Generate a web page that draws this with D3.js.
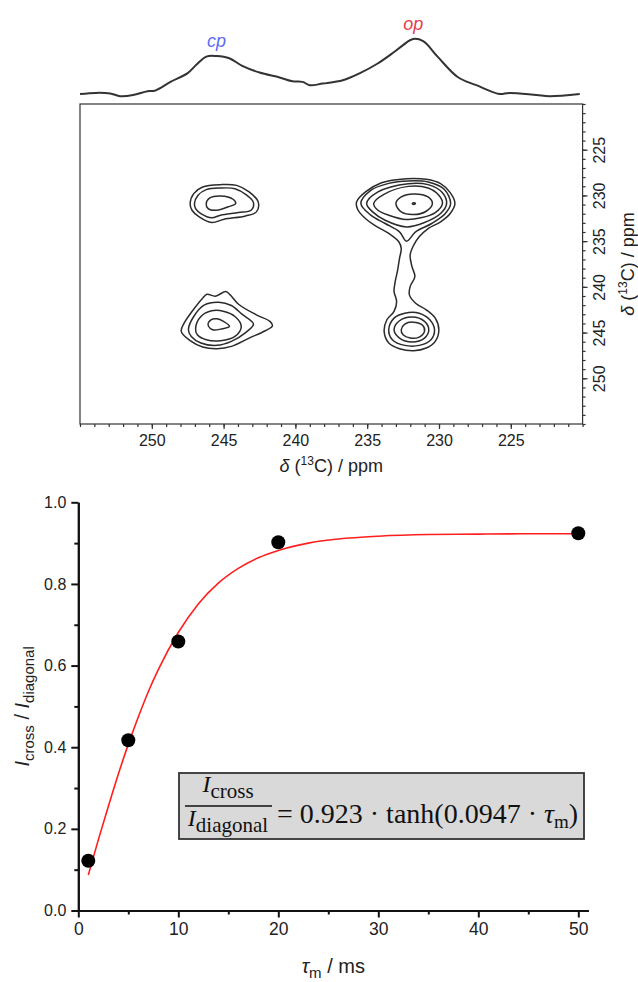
<!DOCTYPE html>
<html>
<head>
<meta charset="utf-8">
<script src="https://cdn.jsdelivr.net/npm/d3@7"></script>
<style>
body { margin: 0; background: #fff; }
svg { display: block; }
</style>
</head>
<body>
<svg id="chart" width="638" height="982"></svg>
<script>
// ---- 1D projection (top trace) ----
var spec_ppm = [255.0, 253.9, 252.9, 252.2, 251.3, 250.3, 249.8, 248.7, 247.5, 246.9,
                246.2, 245.5, 244.6, 243.7, 242.5, 241.1, 240.2, 239.5, 239.0, 238.1,
                236.7, 235.5, 234.3, 233.2, 232.5, 231.8, 231.1, 230.1, 228.7, 227.4,
                225.8, 225.1, 223.2, 222.3, 220.2];
var spec_int = [0.0, 0.02, 0.01, -0.04, -0.02, 0.05, 0.06, 0.22, 0.38, 0.53,
                0.68, 0.69, 0.65, 0.51, 0.39, 0.30, 0.23, 0.22, 0.16, 0.19,
                0.25, 0.38, 0.55, 0.75, 0.89, 1.0, 0.96, 0.68, 0.31, 0.16,
                0.0, 0.02, -0.02, -0.04, 0.0];
var peak_labels = ["cp", "op"];
var peak_label_ppm = [245.5, 231.8];
var peak_label_colors = ["#5b6cf2", "#e53e4c"];

// ---- 2D contours, rings as [f2 ppm, f1 ppm] ----
var ring_cp_top = [
  [[247.33,230.89],[247.08,229.80],[246.46,229.08],[245.21,228.82],[244.09,228.90],[243.22,229.62],[242.59,230.71],[242.72,231.80],[243.47,232.24],[244.96,232.60],[245.83,232.96],[246.70,232.35],[247.20,231.62]],
  [[247.03,230.89],[246.78,229.99],[246.21,229.37],[245.21,229.19],[244.21,229.26],[243.47,229.88],[242.92,230.78],[243.09,231.62],[243.96,231.87],[245.21,232.16],[245.83,232.45],[246.58,231.98],[246.95,231.44]],
  [[246.21,230.89],[245.96,230.28],[245.21,230.06],[244.34,230.42],[244.16,230.89],[244.71,231.26],[245.46,231.62],[246.08,231.44]]
];
var ring_op_link = [
  [[235.74,230.71],[235.12,229.62],[234.00,228.61],[232.26,228.17],[230.89,228.24],[229.89,228.71],[229.22,229.70],[228.89,230.89],[229.22,231.98],[229.89,232.89],[230.76,233.62],[231.38,234.52],[231.76,235.43],[232.01,236.52],[231.88,237.79],[231.68,238.88],[232.01,239.97],[232.06,240.88],[231.63,241.79],[230.89,242.51],[230.26,243.42],[230.01,244.69],[230.26,245.96],[230.89,246.69],[231.76,246.98],[232.75,246.76],[233.50,246.14],[233.82,244.87],[233.63,243.60],[233.13,242.69],[232.95,241.61],[233.13,240.52],[233.05,239.43],[232.88,238.16],[232.75,236.88],[232.63,235.80],[232.80,235.07],[233.50,234.16],[234.50,233.25],[235.24,232.35],[235.67,231.51]]
];
var ring_op_top = [
  [[235.44,230.89],[234.75,229.44],[233.50,228.68],[232.13,228.42],[230.76,228.53],[229.64,229.33],[229.19,230.89],[229.56,231.98],[230.51,233.07],[231.63,233.98],[232.26,235.00],[232.75,233.98],[233.75,233.07],[234.75,232.16]],
  [[235.04,230.89],[234.25,229.62],[232.13,228.71],[230.76,228.82],[229.76,229.70],[229.47,230.89],[229.89,231.98],[231.01,232.96],[232.26,233.44],[233.75,232.71],[234.62,231.80]],
  [[234.55,230.89],[233.87,229.91],[232.13,229.01],[230.76,229.19],[230.01,229.99],[229.76,230.89],[230.26,231.87],[231.26,232.45],[232.26,232.64],[233.50,232.16],[234.25,231.62]],
  [[233.00,230.89],[232.63,230.17],[231.76,229.84],[230.76,230.17],[230.46,230.89],[230.89,231.73],[231.76,232.09],[232.63,231.80]],
  [[231.86,230.89],[231.76,230.80],[231.64,230.89],[231.76,230.98]]
];
var ring_op_bottom = [
  [[233.50,244.69],[233.13,243.42],[232.38,242.88],[231.38,242.88],[230.64,243.60],[230.31,244.69],[230.56,245.78],[231.38,246.40],[232.38,246.40],[233.25,245.78]],
  [[233.13,244.69],[232.75,243.71],[231.88,243.31],[231.01,243.78],[230.71,244.69],[231.01,245.60],[231.88,246.03],[232.75,245.60]],
  [[232.63,244.69],[232.38,244.07],[231.81,243.86],[231.13,244.22],[231.01,244.87],[231.38,245.49],[232.01,245.60],[232.50,245.24]]
];
var ring_cp_bottom = [
  [[247.95,244.87],[247.75,243.97],[247.20,242.69],[246.46,241.24],[246.16,240.81],[245.58,241.02],[244.84,240.52],[244.54,240.88],[243.96,241.90],[242.72,243.06],[241.77,243.78],[241.60,244.26],[242.10,244.80],[243.22,245.60],[244.46,246.51],[245.46,246.76],[246.46,246.58],[247.33,245.89]],
  [[247.45,244.69],[247.08,243.24],[246.33,241.97],[245.33,241.68],[244.46,242.04],[243.72,242.99],[242.92,244.07],[243.42,244.95],[244.46,245.96],[245.46,246.40],[246.58,246.14],[247.25,245.42]],
  [[246.95,244.51],[246.58,243.24],[245.83,242.62],[244.96,242.69],[244.21,243.24],[243.77,244.33],[244.21,245.42],[245.21,245.89],[246.21,245.78],[246.83,245.24]],
  [[246.08,244.15],[245.88,243.60],[245.46,243.49],[245.01,243.78],[244.59,244.33],[245.09,244.58],[245.76,244.69]]
];
var ppm_ticks = [250, 245, 240, 235, 230, 225];

// ---- build-up curve (bottom panel) ----
var tau_ms = [1, 5, 10, 20, 50];
var ratio = [0.122, 0.417, 0.659, 0.902, 0.924];
var fit_tau = [1, 2, 3, 4, 5, 6, 7, 8, 10, 12, 14, 16, 18, 20, 23, 26, 30, 35, 40, 45, 50];
var fit_ratio = [0.087, 0.173, 0.255, 0.334, 0.407, 0.474, 0.536, 0.590, 0.681, 0.751, 0.802,
                 0.838, 0.864, 0.882, 0.900, 0.910, 0.917, 0.921, 0.922, 0.923, 0.923];
var tau_ticks = [0, 10, 20, 30, 40, 50];
var tau_minor = [5, 15, 25, 35, 45];
var ratio_ticks = [0, 0.2, 0.4, 0.6, 0.8, 1.0];
var ratio_minor = [0.1, 0.3, 0.5, 0.7, 0.9];

var sans = "'Liberation Sans', Arial, sans-serif";
var serif = "'Liberation Serif', 'Times New Roman', serif";

var svg = d3.select("#chart");

var xppm = d3.scaleLinear().domain([255, 220]).range([80, 582.6]);
var yppm = d3.scaleLinear().domain([220, 255]).range([104, 424]);
var yspec = d3.scaleLinear().domain([0, 1]).range([94, 39]);

var xtau = d3.scaleLinear().domain([0, 51]).range([78.3, 588.3]);
var yratio = d3.scaleLinear().domain([0, 1]).range([910.5, 502.3]);

function setup_spectrum() {
    var line = d3.line()
        .x(function(d) { return xppm(d[0]); })
        .y(function(d) { return yspec(d[1]); })
        .curve(d3.curveCatmullRom);
    svg.append("path")
        .datum(d3.zip(spec_ppm, spec_int))
        .attr("d", line)
        .attr("fill", "none")
        .attr("stroke", "#333")
        .attr("stroke-width", 2);

    var peak_int = peak_label_ppm.map(function(p) {
        return d3.max(d3.zip(spec_ppm, spec_int), function(d) { return Math.abs(d[0] - p) < 0.6 ? d[1] : -1; });
    });
    svg.append("g").selectAll("text")
        .data(peak_labels)
        .enter().append("text")
        .attr("x", function(d, i) { return xppm(peak_label_ppm[i]); })
        .attr("y", function(d, i) { return yspec(peak_int[i]) - 9; })
        .attr("text-anchor", "middle")
        .attr("font-family", sans)
        .attr("font-style", "italic")
        .attr("font-size", 18)
        .attr("fill", function(d, i) { return peak_label_colors[i]; })
        .text(function(d) { return d; });
}

function setup_contours() {
    var ring = d3.line()
        .x(function(d) { return xppm(d[0]); })
        .y(function(d) { return yppm(d[1]); })
        .curve(d3.curveCatmullRomClosed.alpha(0.5));
    var rings = [].concat(ring_cp_top, ring_op_link, ring_op_top, ring_op_bottom, ring_cp_bottom);
    svg.append("g").selectAll("path")
        .data(rings)
        .enter().append("path")
        .attr("d", ring)
        .attr("fill", "none")
        .attr("stroke", "#2b2b2b")
        .attr("stroke-width", 1.5);
}

function setup_contour_axes() {
    svg.append("rect")
        .attr("x", xppm(255)).attr("y", yppm(220))
        .attr("width", xppm(220) - xppm(255))
        .attr("height", yppm(255) - yppm(220))
        .attr("fill", "none").attr("stroke", "#333").attr("stroke-width", 1.2);

    var minor = d3.range(220, 256);
    var bottom = svg.append("g").attr("transform", "translate(0," + yppm(255) + ")");
    bottom.append("g").call(d3.axisBottom(xppm).tickValues(minor).tickSize(3).tickFormat(""));
    bottom.append("g").call(d3.axisBottom(xppm).tickValues(ppm_ticks).tickSize(5).tickPadding(6).tickFormat(d3.format("d")));
    bottom.selectAll(".domain").remove();
    bottom.selectAll("line").attr("stroke", "#333").attr("stroke-width", 1.2);
    bottom.selectAll("text").attr("font-family", sans).attr("font-size", 16).attr("fill", "#222");

    var right = svg.append("g").attr("transform", "translate(" + xppm(220) + ",0)");
    right.append("g").call(d3.axisRight(yppm).tickValues(minor).tickSize(3).tickFormat(""));
    right.append("g").call(d3.axisRight(yppm).tickValues(ppm_ticks).tickSize(5).tickFormat(d3.format("d")));
    right.selectAll(".domain").remove();
    right.selectAll("line").attr("stroke", "#333").attr("stroke-width", 1.2);
    right.selectAll("text")
        .attr("x", null)
        .attr("dy", "0.35em")
        .attr("transform", "translate(17,0) rotate(-90)")
        .attr("text-anchor", "middle")
        .attr("font-family", sans).attr("font-size", 16).attr("fill", "#222");

    var xt = svg.append("text")
        .attr("x", (xppm(255) + xppm(220)) / 2)
        .attr("y", 472)
        .attr("text-anchor", "middle")
        .attr("font-family", sans).attr("font-size", 18).attr("fill", "#222");
    xt.append("tspan").attr("font-style", "italic").text("δ");
    xt.append("tspan").text(" (");
    xt.append("tspan").attr("font-size", 12).attr("dy", -7).text("13");
    xt.append("tspan").attr("dy", 7).text("C) / ppm");

    var yt = svg.append("text")
        .attr("transform", "translate(628," + (yppm(220) + yppm(255)) / 2 + ") rotate(-90)")
        .attr("dy", "0.35em")
        .attr("text-anchor", "middle")
        .attr("font-family", sans).attr("font-size", 18).attr("fill", "#222");
    yt.append("tspan").attr("font-style", "italic").text("δ");
    yt.append("tspan").text(" (");
    yt.append("tspan").attr("font-size", 12).attr("dy", -7).text("13");
    yt.append("tspan").attr("dy", 7).text("C) / ppm");
}

function setup_decay_axes() {
    var xa = svg.append("g").attr("transform", "translate(0," + yratio(0) + ")");
    xa.append("g").call(d3.axisBottom(xtau).tickValues(tau_minor).tickSize(4).tickSizeOuter(0).tickFormat(""));
    xa.append("g").call(d3.axisBottom(xtau).tickValues(tau_ticks).tickSize(7).tickSizeOuter(0).tickPadding(5).tickFormat(d3.format("d")));
    xa.selectAll(".domain").attr("stroke", "#111").attr("stroke-width", 2);
    xa.selectAll("line").attr("stroke", "#111").attr("stroke-width", 2);
    xa.selectAll("text").attr("font-family", sans).attr("font-size", 17.5).attr("fill", "#222");

    var ya = svg.append("g").attr("transform", "translate(" + xtau(0) + ",0)");
    ya.append("g").call(d3.axisLeft(yratio).tickValues(ratio_minor).tickSize(4).tickSizeOuter(0).tickFormat(""));
    ya.append("g").call(d3.axisLeft(yratio).tickValues(ratio_ticks).tickSize(7).tickSizeOuter(0).tickPadding(5).tickFormat(d3.format(".1f")));
    ya.selectAll(".domain").attr("stroke", "#111").attr("stroke-width", 2);
    ya.selectAll("line").attr("stroke", "#111").attr("stroke-width", 2);
    ya.selectAll("text").attr("font-family", sans).attr("font-size", 16).attr("fill", "#222");

    var xt = svg.append("text")
        .attr("x", (xtau(0) + xtau(51)) / 2)
        .attr("y", 973)
        .attr("text-anchor", "middle")
        .attr("font-family", sans).attr("font-size", 20).attr("fill", "#222");
    xt.append("tspan").attr("font-style", "italic").text("τ");
    xt.append("tspan").attr("font-size", 15).attr("dy", 5).text("m");
    xt.append("tspan").attr("dy", -5).text(" / ms");

    var yt = svg.append("text")
        .attr("transform", "translate(22," + (yratio(0) + yratio(1)) / 2 + ") rotate(-90)")
        .attr("dy", "0.35em")
        .attr("text-anchor", "middle")
        .attr("font-family", sans).attr("font-size", 20).attr("fill", "#222");
    yt.append("tspan").attr("font-style", "italic").text("I");
    yt.append("tspan").attr("font-size", 15).attr("dy", 5).text("cross");
    yt.append("tspan").attr("dy", -5).text(" / ");
    yt.append("tspan").attr("font-style", "italic").text("I");
    yt.append("tspan").attr("font-size", 15).attr("dy", 5).text("diagonal");
}

function setup_decay_marks() {
    var line = d3.line()
        .x(function(d) { return xtau(d[0]); })
        .y(function(d) { return yratio(d[1]); })
        .curve(d3.curveMonotoneX);
    svg.append("path")
        .datum(d3.zip(fit_tau, fit_ratio))
        .attr("d", line)
        .attr("fill", "none")
        .attr("stroke", "#ff1f1f")
        .attr("stroke-width", 1.6);

    svg.append("g").selectAll("circle")
        .data(d3.zip(tau_ms, ratio))
        .enter().append("circle")
        .attr("cx", function(d) { return xtau(d[0]); })
        .attr("cy", function(d) { return yratio(d[1]); })
        .attr("r", 7)
        .attr("fill", "#000");
}

function setup_equation() {
    var g = svg.append("g");
    g.append("rect")
        .attr("x", 179).attr("y", 773).attr("width", 405).attr("height", 66)
        .attr("fill", "#d9d9d9").attr("stroke", "#333").attr("stroke-width", 1.8);

    var num = g.append("text").attr("x", 228).attr("y", 792).attr("text-anchor", "middle")
        .attr("font-family", serif).attr("font-size", 24).attr("fill", "#111");
    num.append("tspan").attr("font-style", "italic").text("I");
    num.append("tspan").attr("font-size", 21).attr("dy", 6).text("cross");

    g.append("line").attr("x1", 185).attr("x2", 272).attr("y1", 806).attr("y2", 806)
        .attr("stroke", "#111").attr("stroke-width", 1.4);

    var den = g.append("text").attr("x", 228).attr("y", 826).attr("text-anchor", "middle")
        .attr("font-family", serif).attr("font-size", 24).attr("fill", "#111");
    den.append("tspan").attr("font-style", "italic").text("I");
    den.append("tspan").attr("font-size", 21).attr("dy", 6).text("diagonal");

    var rhs = g.append("text").attr("x", 277).attr("y", 823)
        .attr("font-family", serif).attr("font-size", 28).attr("fill", "#111");
    rhs.append("tspan").text("= 0.923 · tanh(0.0947 · ");
    rhs.append("tspan").attr("font-style", "italic").text("τ");
    rhs.append("tspan").attr("font-size", 19).attr("dy", 5).text("m");
    rhs.append("tspan").attr("dy", -5).text(")");
}

setup_spectrum();
setup_contours();
setup_contour_axes();
setup_decay_axes();
setup_decay_marks();
setup_equation();
</script>
</body>
</html>
